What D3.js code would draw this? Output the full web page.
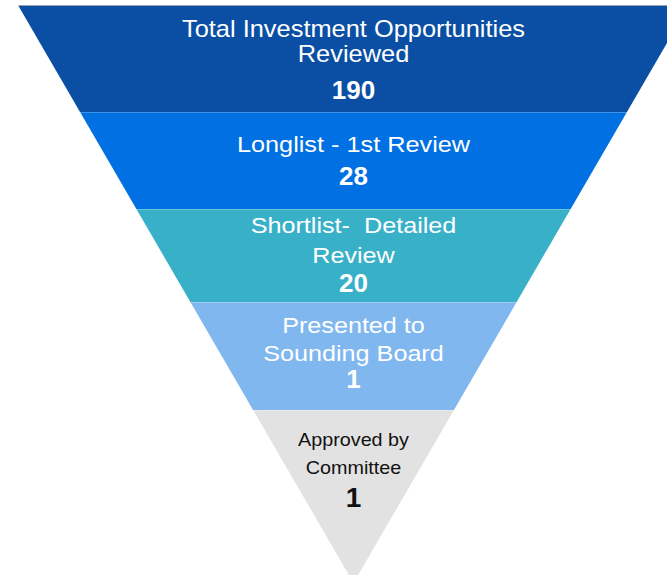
<!DOCTYPE html>
<html>
<head>
<meta charset="utf-8">
<script src="https://cdn.jsdelivr.net/npm/d3@7"></script>
<style>
  html, body { margin: 0; padding: 0; background: #ffffff; }
  svg { display: block; }
  text { font-family: "Liberation Sans", Arial, sans-serif; white-space: pre; }
</style>
</head>
<body>
<svg id="chart" width="667" height="575"></svg>
<script>
// Funnel stages, top to bottom
const stageLabels = [
  ["Total Investment Opportunities", "Reviewed"],
  ["Longlist - 1st Review"],
  ["Shortlist-  Detailed", "Review"],
  ["Presented to", "Sounding Board"],
  ["Approved by", "Committee"]
];
const stageValues = [190, 28, 20, 1, 1];
const stageColors = ["#0a4fa3", "#0070e3", "#38b0c8", "#80b7ef", "#e2e2e2"];
const stageTextColors = ["#ffffff", "#ffffff", "#ffffff", "#ffffff", "#111111"];

// Layout: band edges down the inverted triangle and text placement inside each band
const topY = 6, apexY = 583, centerX = 353.5, topHalf = 335;
const bandEdges = [6, 112, 209, 302, 410, apexY];
const labelBaselines = [[36.7, 62.3], [152.3], [233.3, 262.7], [333.3, 360.7], [446, 474]];
const valueBaselines = [99.3, 185, 292.3, 388.3, 507];
const labelSizes = [23, 22, 22, 22, 19];
const labelStretch = [1.105, 1.15, 1.145, 1.145, 1.04];
const valueSizes = [26, 26, 26, 26, 28];

const svg = d3.select("#chart");

// Half-width of the funnel as a function of height
const halfWidth = d3.scaleLinear().domain([topY, apexY]).range([topHalf, 0]);

const stages = stageValues.map((v, i) => ({
  value: v, labels: stageLabels[i], color: stageColors[i], textColor: stageTextColors[i],
  y0: bandEdges[i], y1: bandEdges[i + 1]
}));

const bandPath = d => {
  const w0 = halfWidth(d.y0), w1 = halfWidth(d.y1);
  const p = d3.path();
  p.moveTo(centerX - w0, d.y0);
  p.lineTo(centerX + w0, d.y0);
  p.lineTo(centerX + w1, d.y1);
  p.lineTo(centerX - w1, d.y1);
  p.closePath();
  return p.toString();
};

svg.append("g").selectAll("path")
  .data(stages)
  .join("path")
  .attr("d", bandPath)
  .attr("fill", d => d.color);

// Faint light seams between stages
svg.append("g").selectAll("line")
  .data(stages.slice(1))
  .join("line")
  .attr("x1", d => centerX - halfWidth(d.y0))
  .attr("x2", d => centerX + halfWidth(d.y0))
  .attr("y1", d => d.y0 + 0.5)
  .attr("y2", d => d.y0 + 0.5)
  .attr("stroke", "rgba(255,255,255,0.25)")
  .attr("stroke-width", 1);

// Thin grey rim along the top edge
svg.append("line")
  .attr("x1", centerX - halfWidth(topY)).attr("x2", centerX + halfWidth(topY))
  .attr("y1", topY - 0.5).attr("y2", topY - 0.5)
  .attr("stroke", "#9aa3ad").attr("stroke-width", 1);

// Stage labels and counts
const textG = svg.append("g").attr("text-anchor", "middle");
stages.forEach((d, i) => {
  d.labels.forEach((line, j) => {
    textG.append("text")
      .attr("transform", `translate(${centerX},${labelBaselines[i][j]}) scale(${labelStretch[i]},1)`)
      .attr("fill", d.textColor)
      .attr("font-size", labelSizes[i])
      .text(line);
  });
  textG.append("text")
    .attr("x", centerX)
    .attr("y", valueBaselines[i])
    .attr("fill", d.textColor)
    .attr("font-size", valueSizes[i])
    .attr("font-weight", "bold")
    .text(d3.format("d")(d.value));
});
</script>
</body>
</html>
